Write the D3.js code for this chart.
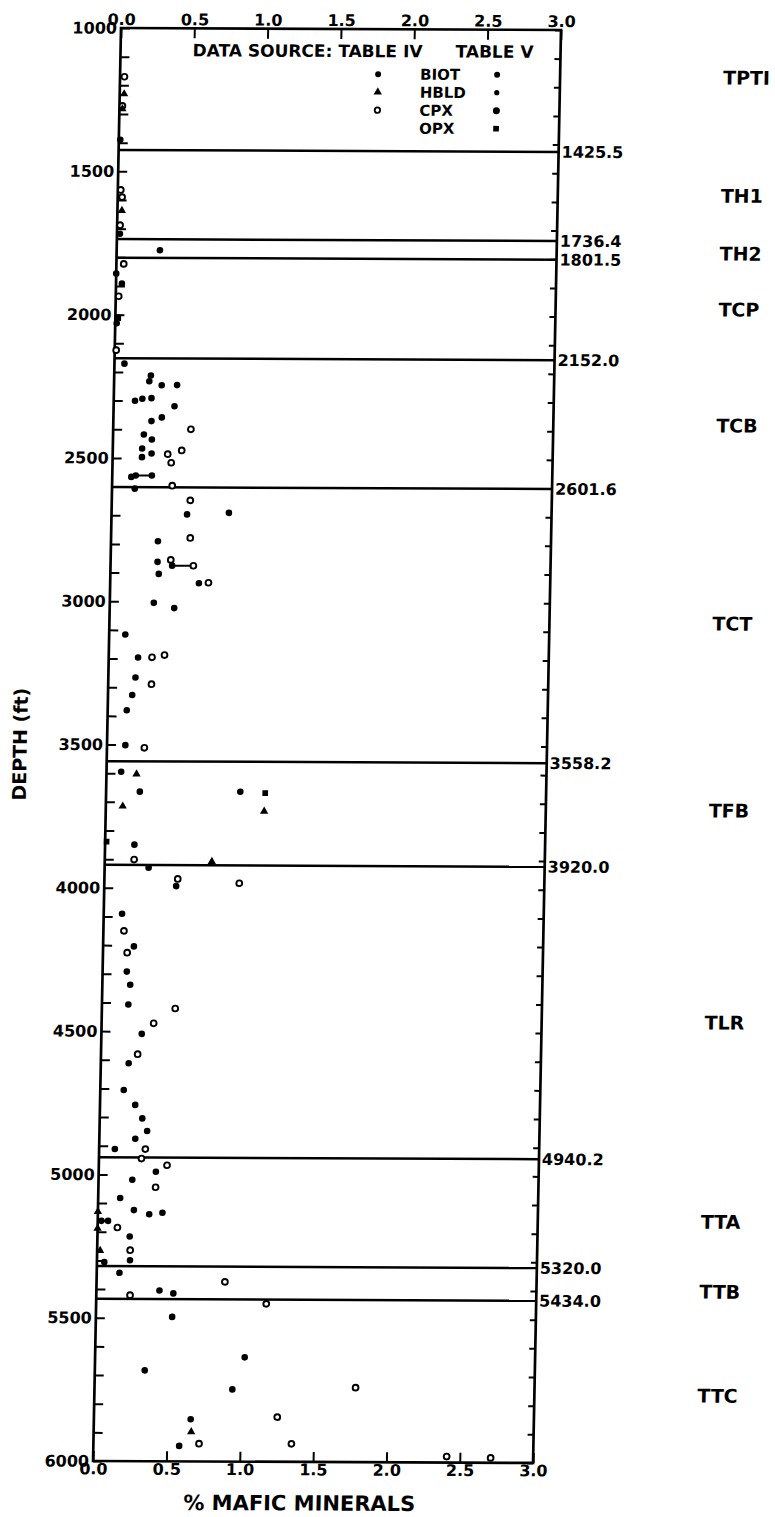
<!DOCTYPE html>
<html lang="en">
<head>
<meta charset="UTF-8" />
<title>% Mafic Minerals vs Depth</title>
<script src="https://d3js.org/d3.v7.min.js"></script>
<style>
  html, body { margin: 0; padding: 0; background: #fff; }
  svg { display: block; font-family: "DejaVu Sans", sans-serif; font-weight: bold; }
  .axis text { font-size: 16px; font-weight: bold; fill: #000; font-family: "DejaVu Sans", sans-serif; }
  .axis line { stroke: #000; stroke-width: 2; }
  .axis .domain { display: none; }
</style>
</head>
<body>
<div id="chart"></div>
<script>
// tick labels
const depthLabels = [1000, 1500, 2000, 2500, 3000, 3500, 4000, 4500, 5000, 5500, 6000];
const pctLabels = [0.0, 0.5, 1.0, 1.5, 2.0, 2.5, 3.0];

// unit boundaries (ft) and formation names with the depth their label sits at
const boundaries = [1425.5, 1736.4, 1801.5, 2152.0, 2601.6, 3558.2, 3920.0, 4940.2, 5320.0, 5434.0];
const unitNames = ["TPTI", "TH1", "TH2", "TCP", "TCB", "TCT", "TFB", "TLR", "TTA", "TTB", "TTC"];
const unitLabelDepth = [1164, 1576, 1778, 1973, 2378, 3069, 3721, 4461, 5156, 5400, 5763];

// [% mafic, depth ft]
const biot = [
  [0.01, 1390], [0.02, 1718], [0.295, 1775], [0.0, 1857], [0.04, 1892], [0.01, 2030],
  [0.068, 2171], [0.25, 2212], [0.24, 2232], [0.325, 2246], [0.43, 2245], [0.145, 2300],
  [0.195, 2293], [0.257, 2291], [0.415, 2319], [0.33, 2358], [0.26, 2371], [0.21, 2418],
  [0.265, 2435], [0.20, 2467], [0.265, 2484], [0.20, 2497], [0.13, 2566], [0.16, 2561],
  [0.27, 2561], [0.155, 2607],
  [0.515, 2696], [0.8, 2690], [0.32, 2790], [0.32, 2862], [0.33, 2904], [0.42, 2875],
  [0.605, 2936], [0.30, 3005], [0.44, 3023], [0.11, 3116], [0.20, 3196], [0.185, 3266],
  [0.165, 3327], [0.13, 3380], [0.125, 3502],
  [0.10, 3595], [0.23, 3664], [0.915, 3663], [0.20, 3849], [0.30, 3929],
  [0.49, 3993], [0.125, 4090], [0.21, 4204], [0.165, 4292], [0.19, 4338], [0.18, 4407],
  [0.275, 4509], [0.19, 4612], [0.16, 4705], [0.24, 4757], [0.29, 4804], [0.325, 4848],
  [0.245, 4875], [0.107, 4911],
  [0.39, 4990], [0.23, 5018], [0.15, 5082], [0.245, 5124], [0.35, 5138], [0.44, 5133],
  [0.025, 5162], [0.07, 5162], [0.22, 5216], [0.225, 5299], [0.05, 5306], [0.155, 5343],
  [0.43, 5404], [0.525, 5414],
  [0.52, 5496], [1.02, 5636], [0.34, 5683], [0.94, 5748], [0.66, 5853], [0.585, 5946]
];
const hbld = [
  [0.03, 1230], [0.02, 1282], [0.03, 1637], [0.205, 3603], [0.115, 3715], [1.08, 3731],
  [0.73, 3907], [0.0, 5130], [0.0, 5188], [0.02, 5266], [0.665, 5897]
];
const cpx = [
  [0.03, 1170], [0.02, 1272], [0.02, 1565], [0.03, 1590], [0.02, 1688], [0.05, 1823],
  [0.02, 1936], [0.01, 2124],
  [0.53, 2399], [0.375, 2486], [0.40, 2516], [0.47, 2473], [0.41, 2596],
  [0.535, 2647], [0.54, 2778], [0.41, 2855], [0.565, 2875], [0.67, 2934], [0.295, 3195],
  [0.38, 3187], [0.295, 3289], [0.255, 3511],
  [0.2, 3901],
  [0.5, 3968], [0.92, 3982], [0.14, 4150], [0.165, 4226], [0.50, 4420], [0.355, 4472],
  [0.25, 4580], [0.315, 4911],
  [0.29, 4944], [0.465, 4967], [0.39, 5044], [0.135, 5185], [0.225, 5264],
  [0.875, 5373], [0.23, 5421], [1.16, 5449],
  [1.78, 5740], [1.25, 5844], [1.35, 5937], [0.72, 5938], [2.41, 5979], [2.71, 5983]
];
const opx = [[0.02, 2012], [0.01, 3839], [1.085, 3667]];
// [depth, from %, to %] range bars
const ranges = [[2561, 0.16, 0.27], [2875, 0.42, 0.565], [5162, 0.025, 0.07]];

const W = 775, H = 1517;
const pw = 440, ph = 1433;

const svg = d3.select("#chart").append("svg")
  .attr("width", W).attr("height", H);

// the scanned figure is slightly sheared; keep that in one group transform
const g = svg.append("g")
  .attr("transform", "matrix(1,0.0045,-0.0195,1,121,28)");

const x = d3.scaleLinear().domain([0, 3]).range([0, pw]);
const y = d3.scaleLinear().domain([1000, 6000]).range([0, ph]);

const depthTicks = d3.range(1000, 6001, 100);
const fmtPct = d3.format(".1f");

g.append("g").attr("class", "axis")
  .call(d3.axisLeft(y).tickValues(depthTicks).tickSize(-9).tickPadding(4)
    .tickFormat(d => depthLabels.includes(d) ? d : ""));

g.append("g").attr("class", "axis")
  .attr("transform", `translate(${pw},0)`)
  .call(d3.axisRight(y).tickValues(depthTicks).tickSize(-6).tickFormat(""));

g.append("g").attr("class", "axis")
  .call(d3.axisTop(x).tickValues(pctLabels).tickSize(-10).tickPadding(3).tickFormat(fmtPct));

g.append("g").attr("class", "axis")
  .attr("transform", `translate(0,${ph})`)
  .call(d3.axisBottom(x).tickValues(pctLabels).tickSize(-10).tickPadding(2).tickFormat(fmtPct));

g.append("rect")
  .attr("width", pw).attr("height", ph)
  .attr("fill", "none").attr("stroke", "#000").attr("stroke-width", 2.7);

// unit boundaries
g.selectAll(".bound").data(boundaries).join("line")
  .attr("class", "bound")
  .attr("x1", 0).attr("x2", pw)
  .attr("y1", d => y(d)).attr("y2", d => y(d))
  .attr("stroke", "#000").attr("stroke-width", 2.5);

g.selectAll(".bound-label").data(boundaries).join("text")
  .attr("class", "bound-label")
  .attr("x", pw + 3).attr("y", d => y(d)).attr("dy", "0.36em")
  .attr("font-size", 16).text(d => d.toFixed(1));

g.selectAll(".unit").data(unitNames).join("text")
  .attr("class", "unit")
  .attr("x", 603).attr("y", (d, i) => y(unitLabelDepth[i])).attr("dy", "0.36em")
  .attr("font-size", 19).text(d => d);

// axis titles
g.append("text")
  .attr("transform", `translate(-87,${ph / 2}) rotate(-90)`)
  .attr("text-anchor", "middle").attr("dy", "0.36em")
  .attr("font-size", 19).text("DEPTH (ft)");

g.append("text")
  .attr("x", 207).attr("y", ph + 41).attr("dy", "0.36em")
  .attr("text-anchor", "middle")
  .attr("font-size", 21).text("% MAFIC MINERALS");

// data marks
const tri = d3.symbol().type(d3.symbolTriangle).size(30);
const sq = d3.symbol().type(d3.symbolSquare).size(32);

g.selectAll(".range").data(ranges).join("line")
  .attr("class", "range")
  .attr("x1", d => x(d[1])).attr("x2", d => x(d[2]))
  .attr("y1", d => y(d[0])).attr("y2", d => y(d[0]))
  .attr("stroke", "#000").attr("stroke-width", 2);

g.selectAll(".biot").data(biot).join("circle")
  .attr("class", "biot")
  .attr("cx", d => x(d[0])).attr("cy", d => y(d[1])).attr("r", 3.3)
  .attr("fill", "#000");

g.selectAll(".cpx").data(cpx).join("circle")
  .attr("class", "cpx")
  .attr("cx", d => x(d[0])).attr("cy", d => y(d[1])).attr("r", 2.9)
  .attr("fill", "#fff").attr("stroke", "#000").attr("stroke-width", 1.9);

g.selectAll(".hbld").data(hbld).join("path")
  .attr("class", "hbld")
  .attr("transform", d => `translate(${x(d[0])},${y(d[1])})`)
  .attr("d", tri).attr("fill", "#000");

g.selectAll(".opx").data(opx).join("path")
  .attr("class", "opx")
  .attr("transform", d => `translate(${x(d[0])},${y(d[1])})`)
  .attr("d", sq).attr("fill", "#000");

// legend
const leg = g.append("g");
leg.append("text").attr("x", 72).attr("y", 28).attr("font-size", 17).text("DATA SOURCE: TABLE IV");
leg.append("text").attr("x", 335).attr("y", 28).attr("font-size", 17).text("TABLE V");

const legRows = ["BIOT", "HBLD", "CPX", "OPX"];
const rowY = [45, 63, 81, 99];
legRows.forEach((name, i) => {
  leg.append("text").attr("x", 300).attr("y", rowY[i]).attr("dy", "0.36em")
    .attr("font-size", 15).text(name);
});
// table IV column
leg.append("circle").attr("cx", 258).attr("cy", rowY[0]).attr("r", 3).attr("fill", "#000");
leg.append("path").attr("transform", `translate(258,${rowY[1]})`).attr("d", tri).attr("fill", "#000");
leg.append("circle").attr("cx", 258).attr("cy", rowY[2]).attr("r", 2.7)
  .attr("fill", "#fff").attr("stroke", "#000").attr("stroke-width", 1.8);
// table V column
leg.append("circle").attr("cx", 377).attr("cy", rowY[0]).attr("r", 3).attr("fill", "#000");
leg.append("circle").attr("cx", 377).attr("cy", rowY[1]).attr("r", 2.6).attr("fill", "#000");
leg.append("circle").attr("cx", 377).attr("cy", rowY[2]).attr("r", 3.5).attr("fill", "#000");
leg.append("path").attr("transform", `translate(377,${rowY[3]})`).attr("d", sq).attr("fill", "#000");
</script>
</body>
</html>
